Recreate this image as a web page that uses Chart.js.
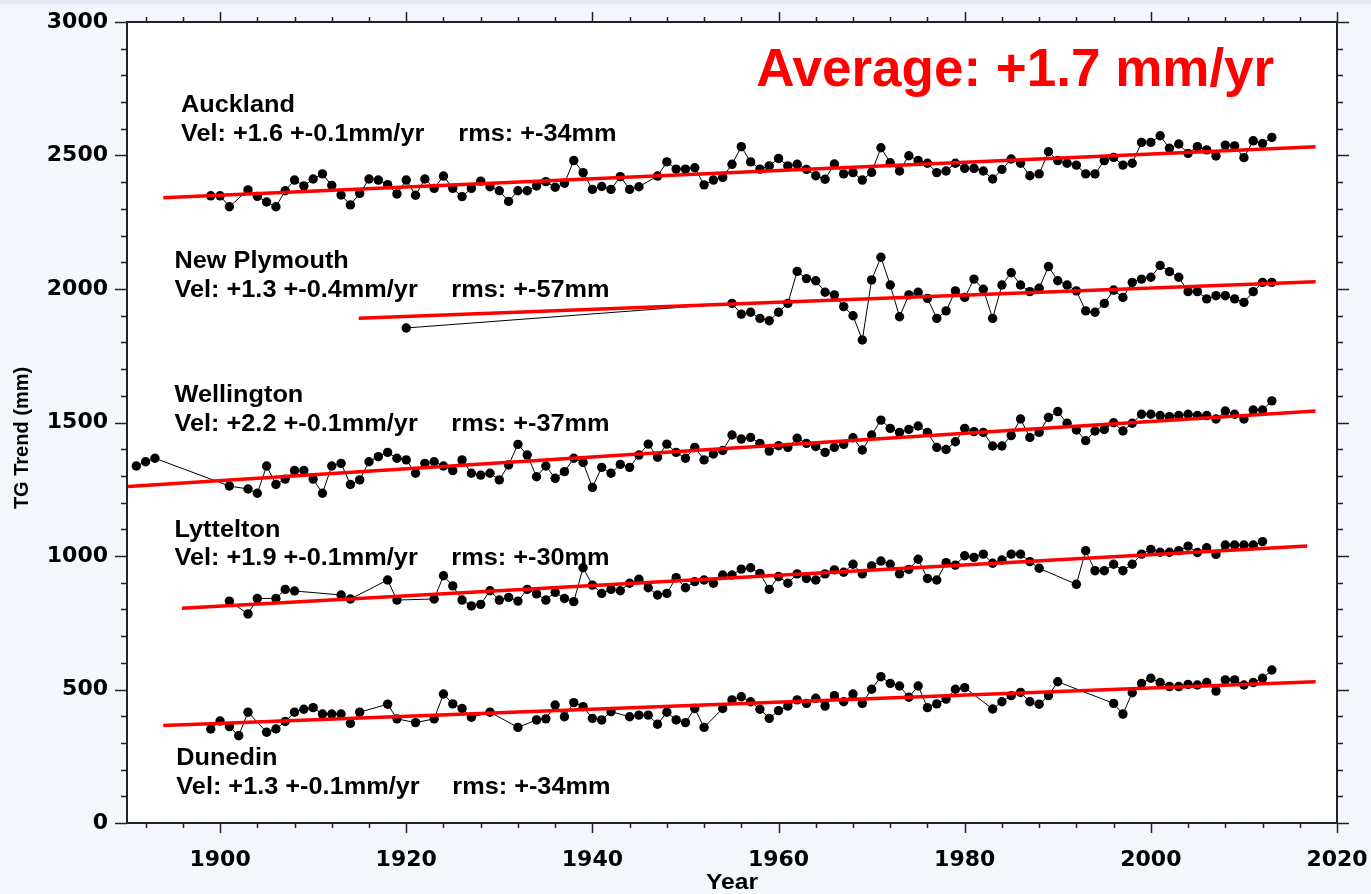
<!DOCTYPE html>
<html>
<head>
<meta charset="utf-8">
<title>TG Trend - NZ tide gauges</title>
<script src="https://cdn.jsdelivr.net/npm/chart.js@4.4.0/dist/chart.umd.min.js"></script>
<style>
  html, body { margin: 0; padding: 0; background: #f3f6fa; }
  canvas { display: block; }
</style>
</head>
<body>
<canvas id="tgChart" width="1371" height="894"></canvas>
<script>
// [year, TG trend mm]
const auckland = [
  [1899,2349],[1900,2349],[1901,2308],[1903,2371],[1904,2347],[1905,2326],[1906,2308],[1907,2368],
  [1908,2408],[1909,2386],[1910,2412],[1911,2431],[1912,2388],[1913,2352],[1914,2315],[1915,2358],
  [1916,2412],[1917,2408],[1918,2391],[1919,2356],[1920,2408],[1921,2351],[1922,2412],[1923,2377],
  [1924,2423],[1925,2377],[1926,2346],[1927,2377],[1928,2404],[1929,2383],[1930,2368],[1931,2328],
  [1932,2368],[1933,2368],[1934,2386],[1935,2402],[1936,2381],[1937,2396],[1938,2481],[1939,2436],
  [1940,2373],[1941,2384],[1942,2373],[1943,2421],[1944,2373],[1945,2383],[1947,2423],[1948,2476],
  [1949,2449],[1950,2449],[1951,2454],[1952,2390],[1953,2408],[1954,2418],[1955,2467],[1956,2533],
  [1957,2476],[1958,2449],[1959,2461],[1960,2489],[1961,2461],[1962,2467],[1963,2448],[1964,2424],
  [1965,2411],[1966,2468],[1967,2431],[1968,2436],[1969,2408],[1970,2437],[1971,2529],[1972,2473],
  [1973,2442],[1974,2499],[1975,2481],[1976,2471],[1977,2436],[1978,2442],[1979,2471],[1980,2452],
  [1981,2452],[1982,2442],[1983,2412],[1984,2448],[1985,2487],[1986,2471],[1987,2424],[1988,2431],
  [1989,2514],[1990,2481],[1991,2471],[1992,2464],[1993,2431],[1994,2431],[1995,2481],[1996,2493],
  [1997,2464],[1998,2471],[1999,2549],[2000,2549],[2001,2574],[2002,2527],[2003,2543],[2004,2508],
  [2005,2533],[2006,2521],[2007,2498],[2008,2539],[2009,2536],[2010,2492],[2011,2555],[2012,2545],
  [2013,2568]
];

const newPlymouth = [
  [1920,1854],[1955,1946],[1956,1906],[1957,1913],[1958,1890],[1959,1881],[1960,1913],[1961,1946],
  [1962,2066],[1963,2039],[1964,2031],[1965,1988],[1966,1978],[1967,1934],[1968,1900],[1969,1809],
  [1970,2034],[1971,2119],[1972,2015],[1973,1896],[1974,1978],[1975,1988],[1976,1965],[1977,1890],
  [1978,1918],[1979,1993],[1980,1968],[1981,2037],[1982,1999],[1983,1890],[1984,2015],[1985,2061],
  [1986,2015],[1987,1990],[1988,2003],[1989,2084],[1990,2031],[1991,2015],[1992,1993],[1993,1918],
  [1994,1913],[1995,1946],[1996,1996],[1997,1968],[1998,2025],[1999,2037],[2000,2044],[2001,2088],
  [2002,2065],[2003,2044],[2004,1990],[2005,1990],[2006,1963],[2007,1975],[2008,1975],[2009,1963],
  [2010,1950],[2011,1990],[2012,2025],[2013,2025]
];

const wellington = [
  [1891,1337],[1892,1353],[1893,1366],[1901,1262],[1903,1251],[1904,1235],[1905,1337],[1906,1268],
  [1907,1288],[1908,1320],[1909,1320],[1910,1288],[1911,1235],[1912,1337],[1913,1347],[1914,1268],
  [1915,1285],[1916,1353],[1917,1372],[1918,1388],[1919,1366],[1920,1360],[1921,1310],[1922,1347],
  [1923,1353],[1924,1337],[1925,1320],[1926,1360],[1927,1310],[1928,1303],[1929,1310],[1930,1285],
  [1931,1341],[1932,1418],[1933,1378],[1934,1297],[1935,1337],[1936,1291],[1937,1316],[1938,1366],
  [1939,1350],[1940,1257],[1941,1332],[1942,1310],[1943,1343],[1944,1332],[1945,1378],[1946,1419],
  [1947,1370],[1948,1419],[1949,1388],[1950,1366],[1951,1407],[1952,1360],[1953,1382],[1954,1395],
  [1955,1453],[1956,1438],[1957,1444],[1958,1422],[1959,1393],[1960,1413],[1961,1407],[1962,1441],
  [1963,1422],[1964,1410],[1965,1388],[1966,1407],[1967,1418],[1968,1443],[1969,1397],[1970,1453],
  [1971,1509],[1972,1478],[1973,1463],[1974,1474],[1975,1487],[1976,1463],[1977,1407],[1978,1399],
  [1979,1428],[1980,1478],[1981,1466],[1982,1463],[1983,1412],[1984,1412],[1985,1451],[1986,1513],
  [1987,1444],[1988,1463],[1989,1519],[1990,1541],[1991,1497],[1992,1472],[1993,1432],[1994,1468],
  [1995,1474],[1996,1499],[1997,1468],[1998,1497],[1999,1531],[2000,1531],[2001,1526],[2002,1522],
  [2003,1526],[2004,1531],[2005,1526],[2006,1526],[2007,1513],[2008,1543],[2009,1531],[2010,1513],
  [2011,1547],[2012,1547],[2013,1581]
];

const lyttelton = [
  [1901,831],[1903,783],[1904,841],[1906,841],[1907,875],[1908,869],[1913,854],[1914,839],
  [1918,910],[1919,835],[1923,839],[1924,926],[1925,888],[1926,835],[1927,813],[1928,819],
  [1929,870],[1930,835],[1931,845],[1932,831],[1933,875],[1934,858],[1935,835],[1936,864],
  [1937,841],[1938,829],[1939,956],[1940,891],[1941,860],[1942,875],[1943,870],[1944,898],
  [1945,913],[1946,881],[1947,854],[1948,860],[1949,919],[1950,881],[1951,904],[1952,910],
  [1953,898],[1954,929],[1955,929],[1956,951],[1957,956],[1958,935],[1959,875],[1960,923],
  [1961,898],[1962,933],[1963,916],[1964,910],[1965,933],[1966,948],[1967,939],[1968,969],
  [1969,933],[1970,963],[1971,981],[1972,969],[1973,933],[1974,950],[1975,988],[1976,916],
  [1977,910],[1978,975],[1979,966],[1980,1001],[1981,995],[1982,1007],[1983,973],[1984,985],
  [1985,1007],[1986,1007],[1987,979],[1988,954],[1992,894],[1993,1020],[1994,945],[1995,945],
  [1996,969],[1997,945],[1998,969],[1999,1007],[2000,1025],[2001,1014],[2002,1014],[2003,1020],
  [2004,1037],[2005,1013],[2006,1031],[2007,1006],[2008,1041],[2009,1041],[2010,1041],[2011,1041],
  [2012,1054]
];

const dunedin = [
  [1899,352],[1900,382],[1901,361],[1902,327],[1903,415],[1905,340],[1906,352],[1907,380],
  [1908,415],[1909,426],[1910,432],[1911,408],[1912,408],[1913,408],[1914,373],[1915,415],
  [1918,445],[1919,390],[1921,376],[1923,390],[1924,483],[1925,446],[1926,429],[1927,396],
  [1929,415],[1932,358],[1934,386],[1935,390],[1936,442],[1937,398],[1938,451],[1939,436],
  [1940,392],[1941,386],[1942,417],[1944,398],[1945,404],[1946,404],[1947,370],[1948,415],
  [1949,386],[1950,376],[1951,429],[1952,358],[1954,429],[1955,461],[1956,473],[1957,454],
  [1958,426],[1959,392],[1960,421],[1961,438],[1962,461],[1963,448],[1964,467],[1965,438],
  [1966,477],[1967,454],[1968,483],[1969,448],[1970,501],[1971,548],[1972,523],[1973,513],
  [1974,471],[1975,513],[1976,432],[1977,446],[1978,464],[1979,501],[1980,507],[1983,427],
  [1984,454],[1985,477],[1986,489],[1987,454],[1988,445],[1989,477],[1990,529],[1996,448],
  [1997,408],[1998,488],[1999,523],[2000,542],[2001,526],[2002,511],[2003,511],[2004,519],
  [2005,517],[2006,526],[2007,494],[2008,536],[2009,536],[2010,517],[2011,526],[2012,542],
  [2013,573]
];

// fitted trend lines: [start, end] as [year, mm]
const aucklandTrend = [[1893.9, 2342], [2017.7, 2533]];
const newPlymouthTrend = [[1914.9, 1890], [2017.7, 2027]];
const wellingtonTrend = [[1890.1, 1260], [2017.7, 1543]];
const lytteltonTrend = [[1895.9, 804], [2016.8, 1037]];
const dunedinTrend = [[1893.9, 365], [2017.7, 529]];

const stationNames = ['Auckland', 'New Plymouth', 'Wellington', 'Lyttelton', 'Dunedin'];
const velTexts = ['Vel: +1.6 +-0.1mm/yr', 'Vel: +1.3 +-0.4mm/yr', 'Vel: +2.2 +-0.1mm/yr',
                  'Vel: +1.9 +-0.1mm/yr', 'Vel: +1.3 +-0.1mm/yr'];
const rmsTexts = ['rms: +-34mm', 'rms: +-57mm', 'rms: +-37mm', 'rms: +-30mm', 'rms: +-34mm'];
const averageText = 'Average: +1.7 mm/yr';

const xMajorTicks = [1900, 1920, 1940, 1960, 1980, 2000, 2020];
const yMajorTicks = [0, 500, 1000, 1500, 2000, 2500, 3000];

// where the station captions sit, in axis units
const labelAnchors = [
  { x: 1895.8, nameY: 2688, velY: 2577, rmsX: 1925.6 },
  { x: 1895.1, nameY: 2103, velY: 1993, rmsX: 1924.85 },
  { x: 1895.1, nameY: 1602, velY: 1491, rmsX: 1924.85 },
  { x: 1895.1, nameY: 1095, velY: 991, rmsX: 1924.85 },
  { x: 1895.3, nameY: 240, velY: 132, rmsX: 1924.95 }
];

function seriesDataset(points) {
  return {
    data: points.map(p => ({ x: p[0], y: p[1] })),
    showLine: true,
    borderColor: '#000',
    borderWidth: 1,
    backgroundColor: '#000',
    pointRadius: 4.7,
    pointBorderWidth: 0,
    pointHoverRadius: 4.7,
    order: 2
  };
}

function trendDataset(points) {
  return {
    data: points.map(p => ({ x: p[0], y: p[1] })),
    showLine: true,
    borderColor: '#ff0000',
    borderWidth: 3.5,
    pointRadius: 0,
    pointHoverRadius: 0,
    order: 1
  };
}

function stretchedText(ctx, text, x, y, font, sx) {
  ctx.save();
  ctx.translate(x, y);
  ctx.scale(sx, 1);
  ctx.font = font;
  ctx.fillText(text, 0, 0);
  ctx.restore();
}

// keep the plot box exactly where the figure has it
function noEdgePadding(s) {
  s.paddingLeft = 0;
  s.paddingRight = 0;
  s.paddingTop = 0;
  s.paddingBottom = 0;
}

// white plot box on the slide tint
const backdrop = {
  id: 'backdrop',
  beforeDraw(chart) {
    const { ctx, chartArea: a } = chart;
    ctx.save();
    ctx.fillStyle = '#f3f6fa';
    ctx.fillRect(0, 0, chart.width, chart.height);
    ctx.fillStyle = '#e4eaf2';
    ctx.fillRect(0, 0, chart.width, 4);
    ctx.fillStyle = '#ffffff';
    ctx.fillRect(a.left, a.top, a.right - a.left, a.bottom - a.top);
    ctx.restore();
  }
};

// major / minor tick marks on all four sides
const axisTicks = {
  id: 'axisTicks',
  afterDraw(chart) {
    const { ctx, chartArea: a, scales: { x, y } } = chart;
    ctx.save();
    ctx.strokeStyle = '#222';
    ctx.lineWidth = 1.5;
    ctx.beginPath();
    for (let yr = 1892; yr <= 2020; yr += 4) {
      const px = Math.round(x.getPixelForValue(yr)) + 0.5;
      const len = yr % 20 === 0 ? 10 : 5;
      ctx.moveTo(px, a.bottom); ctx.lineTo(px, a.bottom + len);
      ctx.moveTo(px, a.top); ctx.lineTo(px, a.top - len);
    }
    for (let v = 0; v <= 3000; v += 100) {
      const py = Math.round(y.getPixelForValue(v)) + 0.5;
      const len = v % 500 === 0 ? 12 : 6;
      ctx.moveTo(a.left, py); ctx.lineTo(a.left - len, py);
      ctx.moveTo(a.right, py); ctx.lineTo(a.right + len, py);
    }
    ctx.stroke();
    ctx.restore();
  }
};

// station captions, headline and axis titles
const captions = {
  id: 'captions',
  afterDraw(chart) {
    const { ctx, chartArea: a, scales: { x, y } } = chart;
    ctx.save();
    ctx.fillStyle = '#000';
    ctx.textBaseline = 'middle';
    ctx.textAlign = 'left';
    const f = 'bold 23px "Liberation Sans", Arial, sans-serif';
    stationNames.forEach((name, i) => {
      const p = labelAnchors[i];
      stretchedText(ctx, name, x.getPixelForValue(p.x), y.getPixelForValue(p.nameY), f, 1.1);
      stretchedText(ctx, velTexts[i], x.getPixelForValue(p.x), y.getPixelForValue(p.velY), f, 1.1);
      stretchedText(ctx, rmsTexts[i], x.getPixelForValue(p.rmsX), y.getPixelForValue(p.velY), f, 1.1);
    });

    ctx.fillStyle = '#ff0000';
    ctx.font = 'bold 53px "Liberation Sans", Arial, sans-serif';
    ctx.fillText(averageText, x.getPixelForValue(1957.6), y.getPixelForValue(2816));

    ctx.fillStyle = '#000';
    ctx.textAlign = 'center';
    stretchedText(ctx, 'Year', (a.left + a.right) / 2, 883, 'bold 22px "Liberation Sans", Arial, sans-serif', 1.12);
    ctx.translate(22, 438);
    ctx.rotate(-Math.PI / 2);
    ctx.font = 'bold 20px "Liberation Sans", Arial, sans-serif';
    ctx.fillText('TG Trend (mm)', 0, 0);
    ctx.restore();
  }
};

const tickFont = { family: 'DejaVu Sans', weight: 'bold', size: 22 };
const frame = { display: true, color: '#222', width: 2 };
const noGrid = { display: false, drawTicks: false };

new Chart(document.getElementById('tgChart'), {
  type: 'scatter',
  data: {
    datasets: [
      trendDataset(aucklandTrend),
      trendDataset(newPlymouthTrend),
      trendDataset(wellingtonTrend),
      trendDataset(lytteltonTrend),
      trendDataset(dunedinTrend),
      seriesDataset(auckland),
      seriesDataset(newPlymouth),
      seriesDataset(wellington),
      seriesDataset(lyttelton),
      seriesDataset(dunedin)
    ]
  },
  options: {
    responsive: false,
    animation: false,
    layout: { padding: 0 },
    plugins: {
      legend: { display: false },
      tooltip: { enabled: false }
    },
    scales: {
      x: {
        type: 'linear', position: 'bottom', min: 1890, max: 2020,
        afterBuildTicks: s => { s.ticks = xMajorTicks.map(v => ({ value: v })); },
        afterFit: s => { s.height = 71; noEdgePadding(s); },
        ticks: { font: tickFont, color: '#000', padding: 24, maxRotation: 0, autoSkip: false,
                 callback: v => String(v) },
        grid: noGrid,
        border: frame
      },
      xTop: {
        type: 'linear', position: 'top', min: 1890, max: 2020,
        afterFit: s => { s.height = 22; noEdgePadding(s); },
        ticks: { display: false },
        grid: noGrid,
        border: frame
      },
      y: {
        type: 'linear', position: 'left', min: 0, max: 3000,
        afterBuildTicks: s => { s.ticks = yMajorTicks.map(v => ({ value: v })); },
        afterFit: s => { s.width = 127; noEdgePadding(s); },
        ticks: { font: tickFont, color: '#000', padding: 19, callback: v => String(v) },
        grid: noGrid,
        border: frame
      },
      yRight: {
        type: 'linear', position: 'right', min: 0, max: 3000,
        afterFit: s => { s.width = 34; noEdgePadding(s); },
        ticks: { display: false },
        grid: noGrid,
        border: frame
      }
    }
  },
  plugins: [backdrop, axisTicks, captions]
});
</script>
</body>
</html>
